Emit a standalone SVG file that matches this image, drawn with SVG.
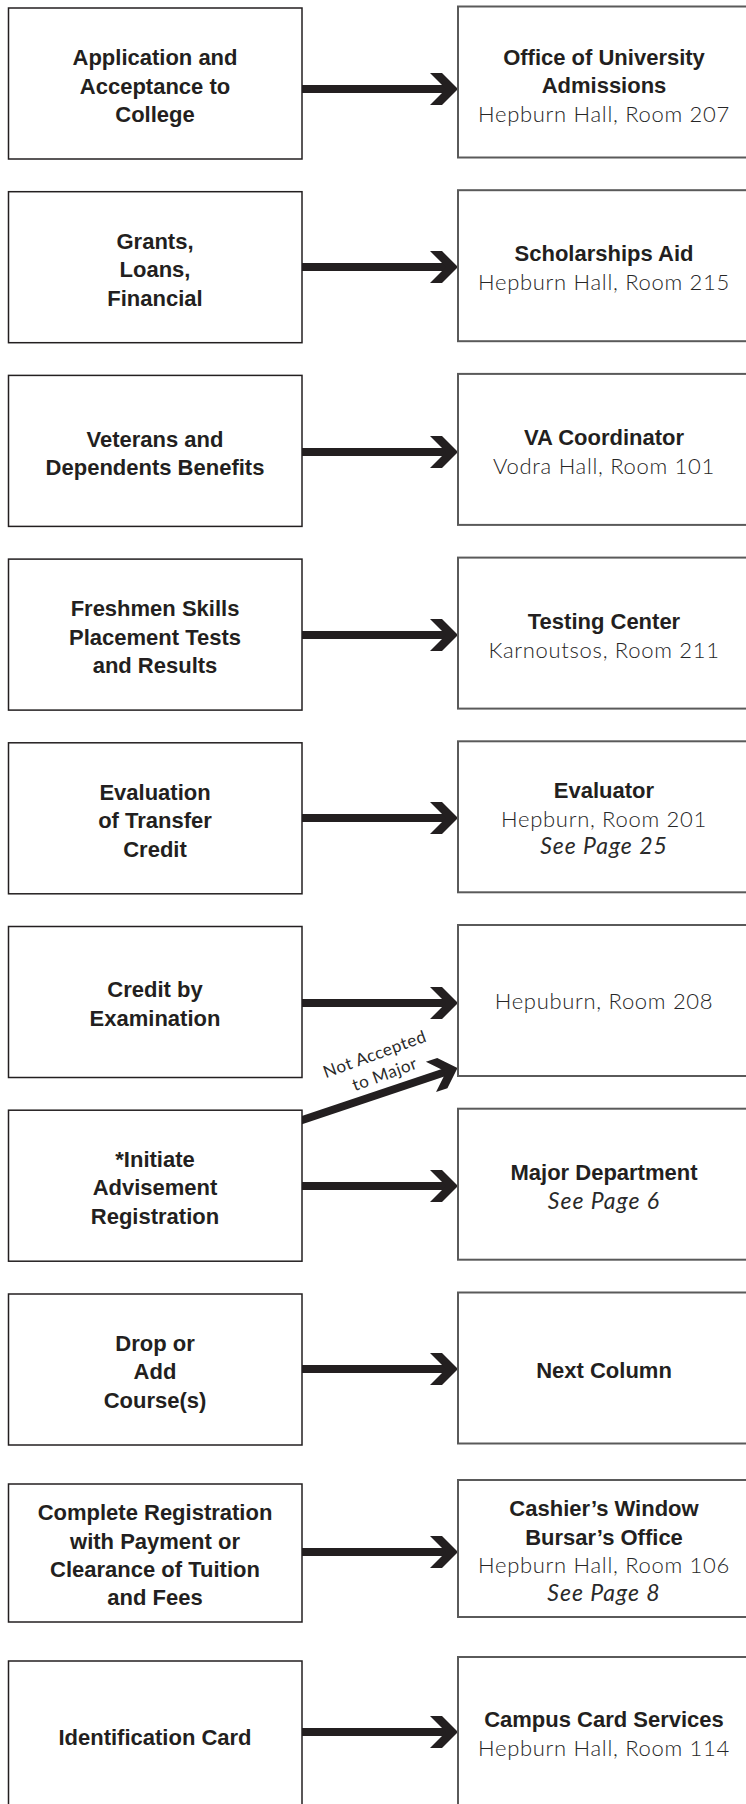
<svg xmlns="http://www.w3.org/2000/svg" width="746" height="1804" viewBox="0 0 746 1804">
<defs>
<style>
.lb{fill:#fff;stroke:#231f20;stroke-width:1.5}
.rb{fill:#fff;stroke:#5a5a5a;stroke-width:2}
.b{font-family:"Liberation Sans",Arial,sans-serif;font-weight:bold;font-size:22px;fill:#231f20;text-anchor:middle}
.l{font-family:Lato,"Liberation Sans",sans-serif;font-weight:300;font-size:22px;letter-spacing:0.7px;fill:#262626;text-anchor:middle}
.i{font-style:italic;font-weight:400;font-size:23px;letter-spacing:1px;fill:#2a2a2a}
.n{font-family:Lato,"Liberation Sans",sans-serif;font-weight:400;font-size:17px;letter-spacing:0.5px;fill:#2a2a2a;text-anchor:middle}
.ln{stroke:#231f20;stroke-width:8;fill:none}
.hd{fill:#231f20}
</style>
<g id="arrow">
<path class="ln" d="M-156 0H-12"/>
<polygon class="hd" points="-28,-16 -16,-16 0,0 -16,16 -28,16 -12,0"/>
</g>
</defs>
<rect width="746" height="1804" fill="#fff"/>

<g id="connectors">
<use href="#arrow" transform="translate(458,89)"/>
<use href="#arrow" transform="translate(458,267)"/>
<use href="#arrow" transform="translate(458,452)"/>
<use href="#arrow" transform="translate(458,635)"/>
<use href="#arrow" transform="translate(458,818)"/>
<use href="#arrow" transform="translate(458,1003)"/>
<use href="#arrow" transform="translate(458,1186)"/>
<use href="#arrow" transform="translate(458,1369)"/>
<use href="#arrow" transform="translate(458,1552)"/>
<use href="#arrow" transform="translate(458,1732)"/>
<g transform="translate(457.5,1068) rotate(-18.5)">
<path class="ln" d="M-166 0H-12"/>
<polygon class="hd" points="-28,-16 -16,-16 0,0 -16,16 -28,16 -12,0"/>
</g>
<g transform="translate(375,1055) rotate(-20)"><text class="n" x="0" y="5">Not Accepted</text></g>
<g transform="translate(385,1075) rotate(-20)"><text class="n" x="0" y="5">to Major</text></g>
</g>

<g id="n1"><rect class="lb" x="8.5" y="8" width="293.5" height="151"/>
<text class="b" x="155" y="65">Application and</text><text class="b" x="155" y="93.5">Acceptance to</text><text class="b" x="155" y="122">College</text></g>
<g id="r1"><rect class="rb" x="458" y="6.5" width="300" height="151"/>
<text class="b" x="604" y="64.5">Office of University</text><text class="b" x="604" y="93">Admissions</text><text class="l" x="604" y="121.5">Hepburn Hall, Room 207</text></g>

<g id="n2"><rect class="lb" x="8.5" y="191.7" width="293.5" height="151"/>
<text class="b" x="155" y="248.5">Grants,</text><text class="b" x="155" y="277">Loans,</text><text class="b" x="155" y="305.5">Financial</text></g>
<g id="r2"><rect class="rb" x="458" y="190.2" width="300" height="151"/>
<text class="b" x="604" y="261">Scholarships Aid</text><text class="l" x="604" y="289.5">Hepburn Hall, Room 215</text></g>

<g id="n3"><rect class="lb" x="8.5" y="375.4" width="293.5" height="151"/>
<text class="b" x="155" y="446.5">Veterans and</text><text class="b" x="155" y="475">Dependents Benefits</text></g>
<g id="r3"><rect class="rb" x="458" y="373.9" width="300" height="151"/>
<text class="b" x="604" y="445">VA Coordinator</text><text class="l" x="604" y="473.5">Vodra Hall, Room 101</text></g>

<g id="n4"><rect class="lb" x="8.5" y="559.1" width="293.5" height="151"/>
<text class="b" x="155" y="616">Freshmen Skills</text><text class="b" x="155" y="644.5">Placement Tests</text><text class="b" x="155" y="673">and Results</text></g>
<g id="r4"><rect class="rb" x="458" y="557.6" width="300" height="151"/>
<text class="b" x="604" y="629">Testing Center</text><text class="l" x="604" y="657.5">Karnoutsos, Room 211</text></g>

<g id="n5"><rect class="lb" x="8.5" y="742.8" width="293.5" height="151"/>
<text class="b" x="155" y="799.5">Evaluation</text><text class="b" x="155" y="828">of Transfer</text><text class="b" x="155" y="856.5">Credit</text></g>
<g id="r5"><rect class="rb" x="458" y="741.3" width="300" height="151"/>
<text class="b" x="604" y="798">Evaluator</text><text class="l" x="604" y="826.5">Hepburn, Room 201</text><text class="l i" x="604" y="854">See Page 25</text></g>

<g id="n6"><rect class="lb" x="8.5" y="926.5" width="293.5" height="151"/>
<text class="b" x="155" y="997">Credit by</text><text class="b" x="155" y="1025.5">Examination</text></g>
<g id="r6"><rect class="rb" x="458" y="925" width="300" height="151"/>
<text class="l" x="604" y="1009">Hepuburn, Room 208</text></g>

<g id="n7"><rect class="lb" x="8.5" y="1110.2" width="293.5" height="151"/>
<text class="b" x="155" y="1166.7">*Initiate</text><text class="b" x="155" y="1195">Advisement</text><text class="b" x="155" y="1223.5">Registration</text></g>
<g id="r7"><rect class="rb" x="458" y="1108.7" width="300" height="151"/>
<text class="b" x="604" y="1180">Major Department</text><text class="l i" x="604" y="1208.5">See Page 6</text></g>

<g id="n8"><rect class="lb" x="8.5" y="1294" width="293.5" height="151"/>
<text class="b" x="155" y="1350.5">Drop or</text><text class="b" x="155" y="1379">Add</text><text class="b" x="155" y="1407.5">Course(s)</text></g>
<g id="r8"><rect class="rb" x="458" y="1292.5" width="300" height="151"/>
<text class="b" x="604" y="1378">Next Column</text></g>

<g id="n9"><rect class="lb" x="8.5" y="1484" width="293.5" height="138"/>
<text class="b" x="155" y="1520">Complete Registration</text><text class="b" x="155" y="1548.5">with Payment or</text><text class="b" x="155" y="1577">Clearance of Tuition</text><text class="b" x="155" y="1605">and Fees</text></g>
<g id="r9"><rect class="rb" x="458" y="1480" width="300" height="137"/>
<text class="b" x="604" y="1516">Cashier’s Window</text><text class="b" x="604" y="1544.5">Bursar’s Office</text><text class="l" x="604" y="1573">Hepburn Hall, Room 106</text><text class="l i" x="604" y="1600.5">See Page 8</text></g>

<g id="n10"><rect class="lb" x="8.5" y="1661" width="293.5" height="200"/>
<text class="b" x="155" y="1745">Identification Card</text></g>
<g id="r10"><rect class="rb" x="458" y="1657" width="300" height="200"/>
<text class="b" x="604" y="1727">Campus Card Services</text><text class="l" x="604" y="1756">Hepburn Hall, Room 114</text></g>
</svg>
